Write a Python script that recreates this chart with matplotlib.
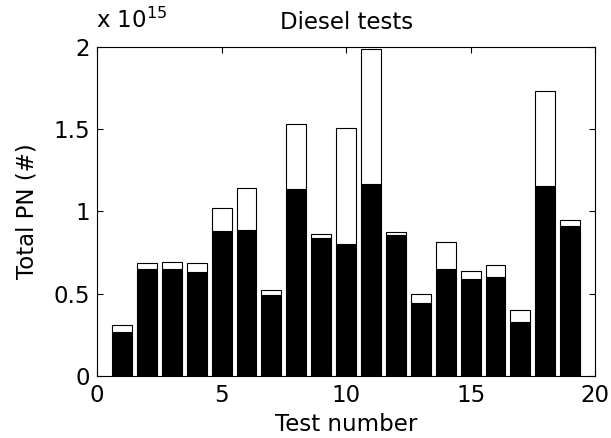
import matplotlib
matplotlib.use("Agg")
import matplotlib.pyplot as plt
import numpy as np

plt.rcParams['font.family'] = ['DejaVu Sans']
plt.rcParams['mathtext.fontset'] = 'dejavusans'

# Total particle number per diesel test, in units of 1e15
tests = np.arange(1, 20)
pn_lower = [0.266, 0.649, 0.649, 0.629, 0.882, 0.888, 0.493, 1.134, 0.836, 0.801,
            1.168, 0.856, 0.444, 0.651, 0.590, 0.604, 0.331, 1.154, 0.909]
pn_total = [0.310, 0.688, 0.694, 0.688, 1.018, 1.140, 0.521, 1.531, 0.860, 1.507,
            1.988, 0.874, 0.501, 0.813, 0.635, 0.673, 0.402, 1.732, 0.947]
pn_upper = [t - b for t, b in zip(pn_total, pn_lower)]

FS = 16.5

fig = plt.figure(figsize=(6.11, 4.38), dpi=100)
ax = fig.add_axes([0.159, 0.1416, 0.815, 0.7514])

ax.bar(tests, pn_lower, width=0.8, color='black', edgecolor='black', linewidth=0.8)
ax.bar(tests, pn_upper, bottom=pn_lower, width=0.8, color='white',
       edgecolor='black', linewidth=0.8)

ax.set_xlim(0, 20)
ax.set_ylim(0, 2)
ax.set_xticks([0, 5, 10, 15, 20])
ax.set_yticks([0, 0.5, 1, 1.5, 2])
ax.set_yticklabels(['0', '0.5', '1', '1.5', '2'])
ax.tick_params(direction='in', top=True, right=True, labelsize=FS, length=4)
ax.tick_params(axis='x', pad=6)
ax.tick_params(axis='y', pad=5)
for s in ax.spines.values():
    s.set_linewidth(0.8)

ax.set_xlabel('Test number', fontsize=FS, labelpad=4)
ax.set_ylabel('Total PN (#)', fontsize=FS, labelpad=11)
ax.set_title('Diesel tests', fontsize=FS, pad=13)
ax.annotate(r'x 10$^{15}$', xy=(0, 1), xycoords='axes fraction',
            xytext=(-1, 14), textcoords='offset points',
            fontsize=FS, ha='left', va='baseline')

fig.savefig('out.png', dpi=100)
